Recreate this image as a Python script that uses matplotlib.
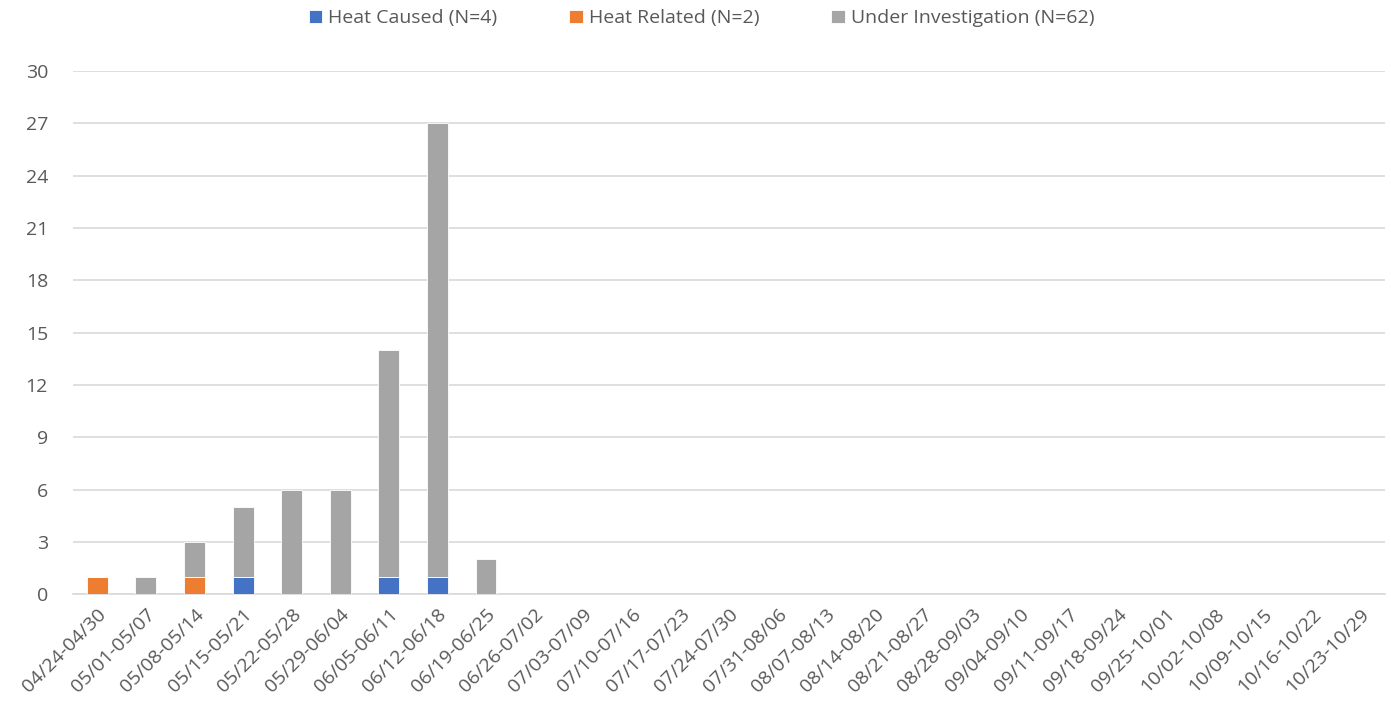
import numpy as np
import matplotlib.pyplot as plt

plt.rcParams['font.family'] = ['Open Sans', 'DejaVu Sans']

weeks = ['04/24-04/30', '05/01-05/07', '05/08-05/14', '05/15-05/21', '05/22-05/28',
         '05/29-06/04', '06/05-06/11', '06/12-06/18', '06/19-06/25', '06/26-07/02',
         '07/03-07/09', '07/10-07/16', '07/17-07/23', '07/24-07/30', '07/31-08/06',
         '08/07-08/13', '08/14-08/20', '08/21-08/27', '08/28-09/03', '09/04-09/10',
         '09/11-09/17', '09/18-09/24', '09/25-10/01', '10/02-10/08', '10/09-10/15',
         '10/16-10/22', '10/23-10/29']
heat_caused = [0, 0, 0, 1, 0, 0, 1, 1, 0] + [0] * 18
heat_related = [1, 0, 1, 0, 0, 0, 0, 0, 0] + [0] * 18
under_invest = [0, 1, 2, 4, 6, 6, 13, 26, 2] + [0] * 18

labels = ['Heat Caused (N=4)', 'Heat Related (N=2)', 'Under Investigation (N=62)']
colors = ['#4472C4', '#ED7D31', '#A5A5A5']

x = np.arange(len(weeks))
hc = np.array(heat_caused)
hr = np.array(heat_related)
ui = np.array(under_invest)

fig = plt.figure(figsize=(13.91, 7.15), dpi=100)
ax = fig.add_axes([0.0525, 0.169, 0.943, 0.7317])

w = 0.43
ax.bar(x, hc, w, color=colors[0], label=labels[0], edgecolor='white', linewidth=0.6, zorder=3)
ax.bar(x, hr, w, bottom=hc, color=colors[1], label=labels[1], edgecolor='white', linewidth=0.6, zorder=3)
ax.bar(x, ui, w, bottom=hc + hr, color=colors[2], label=labels[2], edgecolor='white', linewidth=0.6, zorder=3)

ax.set_xlim(-0.5, len(weeks) - 0.5)
ax.set_ylim(0, 30)
ax.set_yticks(range(0, 31, 3))
ax.yaxis.grid(True, color='#D9D9D9', linewidth=1.2, zorder=0)
ax.set_axisbelow(True)
ax.set_xticks(x)
ax.set_xticklabels(weeks, rotation=45, ha='right', rotation_mode='anchor')
ax.tick_params(axis='both', length=0, labelsize=14, colors='#595959')
ax.tick_params(axis='y', pad=18)
ax.tick_params(axis='x', pad=8)
for s in ['top', 'right', 'left']:
    ax.spines[s].set_visible(False)
ax.spines['bottom'].set_color('#D9D9D9')
ax.spines['bottom'].set_linewidth(1.2)

ax.legend(loc='center', bbox_to_anchor=(0.479, 1.101), ncol=3, frameon=False,
          fontsize=14, labelcolor='#595959', handlelength=0.7, handleheight=0.7,
          handletextpad=0.3, columnspacing=3.7)

fig.savefig('out.png', dpi=100)
